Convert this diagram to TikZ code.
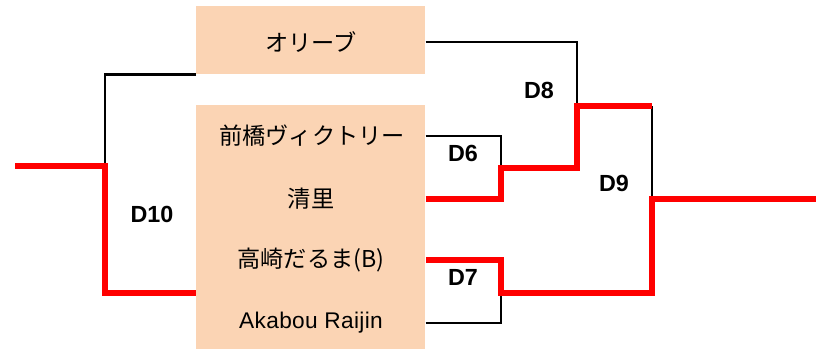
\documentclass[tikz,border=0pt]{standalone}
\usepackage{fontspec}
\setmainfont{Liberation Sans}
\newfontfamily\jpfont{Noto Sans CJK JP}
\definecolor{boxfill}{HTML}{FBD4B4}
\definecolor{winred}{HTML}{FF0000}

\begin{document}
\begin{tikzpicture}[x=0.75pt,y=-0.75pt,
    teambox/.style={fill=boxfill,inner sep=0pt,anchor=north west,minimum width=171.75pt},
    team/.style={font=\jpfont\fontsize{17.4}{18}\selectfont,inner sep=0pt},
    lose/.style={draw=black,line width=2.2pt},
    win/.style={draw=winred,line width=4.5pt},
    lbl/.style={font=\bfseries\fontsize{17.5}{18}\selectfont}]
    \useasboundingbox (0,0) rectangle (816,350);
    % boxes
    \node[teambox,minimum height=51pt] (boxtop) at (196,6) {};
    \node[teambox,minimum height=183pt] (boxbot) at (196,105) {};
    % teams
    \node[team] (olive) at (311,42) {オリーブ};
    \node[team] (maebashi) at (312,136) {前橋ヴィクトリー};
    \node[team] (kiyosato) at (311,199) {清里};
    \node[team] (takasaki) at (311,260) {高崎だるま(B)};
    \node[team,font=\fontsize{17}{18}\selectfont\addfontfeature{LetterSpace=1.5}] (akabou) at (311,323) {Akabou Raijin};
    % joints
    \coordinate (d10) at (105,166);
    \coordinate (start) at (15,166);
    \coordinate (d6) at (501,168);
    \coordinate (d7) at (501,293);
    \coordinate (d8) at (577,106);
    \coordinate (d9) at (652,199);
    \coordinate (goal) at (816,199);
    % losing lines
    \draw[lose] (boxtop.south west) -| (d10);
    \draw[lose] (olive -| boxtop.east) -| (d8);
    \draw[lose] (maebashi -| boxbot.east) -| (d6);
    \draw[lose] (akabou -| boxbot.east) -| (d7);
    \draw[lose] (d8 -| d9) -- (d9);
    % winning lines
    \draw[win] (start) -- (d10) |- (boxbot.west |- 0,293);
    \draw[win] (kiyosato -| boxbot.east) -| (d6) -| (d8) -- (d8 -| d9);
    \draw[win] (goal) -- (d9) |- (d7) |- (takasaki -| boxbot.east);
    % labels
    \node[lbl] (l10) at (152,214) {D10};
    \node[lbl] (l8) at (539,90) {D8};
    \node[lbl] (l6) at (463,153) {D6};
    \node[lbl] (l9) at (614,183) {D9};
    \node[lbl] (l7) at (463,277) {D7};
\end{tikzpicture}
\end{document}
